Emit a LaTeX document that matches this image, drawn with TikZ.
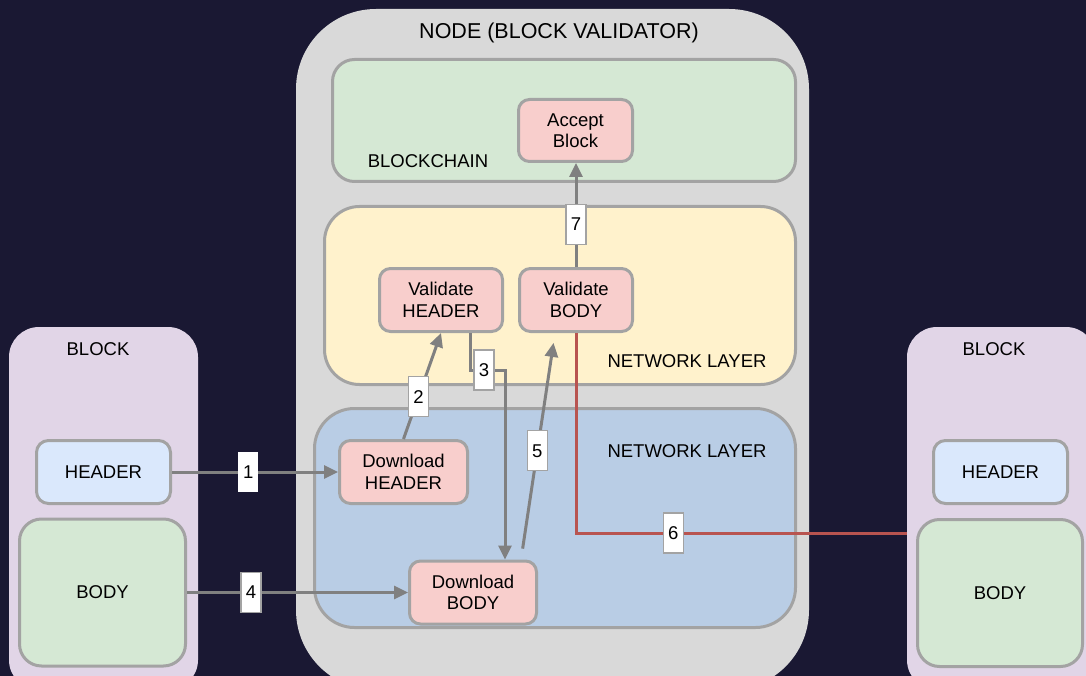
\documentclass[tikz,border=0pt]{standalone}
\usepackage{fontspec}
\setmainfont{Liberation Sans}
\usetikzlibrary{arrows.meta}

\definecolor{bgnavy}{HTML}{1A1833}
\definecolor{nodegray}{HTML}{D9D9D9}
\definecolor{edgegray}{HTML}{A3A3A3}
\definecolor{flowgray}{HTML}{808080}
\definecolor{chaingreen}{HTML}{D5E8D4}
\definecolor{netyellow}{HTML}{FFF2CC}
\definecolor{netblue}{HTML}{B9CDE5}
\definecolor{procpink}{HTML}{F8CECC}
\definecolor{blockpurple}{HTML}{E1D5E7}
\definecolor{headblue}{HTML}{DAE8FC}
\definecolor{rejectred}{HTML}{B85450}

\tikzset{
  txt/.style={font=\fontsize{18.5}{21.5}\selectfont, text=black, align=center},
  region/.style={draw=edgegray, line width=3pt, inner sep=0pt},
  proc/.style={region, fill=procpink, rounded corners=11pt, txt},
  conn/.style={draw=flowgray, line width=3pt, -{Triangle[length=14pt,width=13pt]}},
  reject/.style={draw=rejectred, line width=3pt},
  tag/.style={fill=white, minimum width=20pt, minimum height=40pt, inner sep=0pt, txt},
  tagbox/.style={tag, draw=edgegray, line width=1.2pt},
}

\begin{document}
\begin{tikzpicture}[x=1pt, y=-1pt]
  \useasboundingbox (0,0) rectangle (1086,676);
  \clip (0,0) rectangle (1086,676);
  \fill[bgnavy] (0,0) rectangle (1086,676);

  % validator node and its layers
  \node[fill=nodegray, rounded corners=80pt, minimum width=513pt, minimum height=681pt, inner sep=0pt]
    (validator) at (552.5,349.5) {};
  \node[txt, font=\fontsize{21.5}{24}\selectfont] (title) at (559,33) {NODE (BLOCK VALIDATOR)};

  \node[region, fill=chaingreen, rounded corners=22pt, minimum width=463pt, minimum height=122pt]
    (chain) at (564,120.5) {};
  \node[txt] (chainlbl) at (428,161) {BLOCKCHAIN};

  \node[region, fill=netyellow, rounded corners=35pt, minimum width=471pt, minimum height=178pt]
    (nety) at (560,295.5) {};
  \node[txt] (netylbl) at (687,361) {NETWORK LAYER};

  \node[region, fill=netblue, rounded corners=40pt, minimum width=481pt, minimum height=219pt]
    (netb) at (555,518) {};
  \node[txt] (netblbl) at (687,451) {NETWORK LAYER};

  % processing steps
  \node[proc, minimum width=114pt, minimum height=62pt] (accept) at (575.5,130.5) {Accept\\Block};
  \node[proc, minimum width=123pt, minimum height=63pt] (vh) at (441,300) {Validate\\HEADER};
  \node[proc, minimum width=113pt, minimum height=63pt] (vb) at (576,300) {Validate\\BODY};
  \node[proc, minimum width=128pt, minimum height=63pt] (dh) at (403.5,472) {Download\\HEADER};
  \node[proc, minimum width=127pt, minimum height=63pt] (db) at (473,592.5) {Download\\BODY};

  % incoming block
  \node[fill=blockpurple, rounded corners=30pt, minimum width=189pt, minimum height=363pt, inner sep=0pt]
    (blockL) at (103.5,508.5) {};
  \node[txt] (blockLlbl) at (98,349) {BLOCK};
  \node[region, fill=headblue, rounded corners=12pt, minimum width=134pt, minimum height=63pt, txt]
    (hL) at (103.5,472) {HEADER};
  \node[region, fill=chaingreen, rounded corners=22pt, minimum width=166pt, minimum height=147pt, txt]
    (bL) at (102.5,592.5) {BODY};

  % rejected block
  \node[fill=blockpurple, rounded corners=30pt, minimum width=189pt, minimum height=363pt, inner sep=0pt]
    (blockR) at (1001.5,508.5) {};
  \node[txt] (blockRlbl) at (994,349) {BLOCK};
  \node[region, fill=headblue, rounded corners=12pt, minimum width=134pt, minimum height=63pt, txt]
    (hR) at (1000.5,472) {HEADER};
  \node[region, fill=chaingreen, rounded corners=22pt, minimum width=165pt, minimum height=147pt, txt]
    (bR) at (1000,593) {BODY};

  % flow
  \draw[conn] (hL.east) -- node[tag, pos=0.46] {1} (dh.west);
  \draw[conn] (dh.north) -- node[tagbox, pos=0.40] {2} (vh.south);
  \draw[conn] ([xshift=29pt]vh.south) -- ++(0,37) -- node[tagbox, pos=0.4] {3} ++(35,0)
    -- ([xshift=32pt]db.north);
  \draw[conn] (bL.east) -- node[tagbox, pos=0.29] {4} (db.west);
  \draw[conn, shorten <=11pt, shorten >=10pt] ([xshift=48pt]db.north) -- node[tagbox, pos=0.48] {5} ([xshift=-21pt]vb.south);
  \draw[reject] (vb.south) |- node[tagbox, pos=0.647] {6} ([yshift=-24.5pt]blockR.west);
  \draw[conn] (vb.north) -- node[tagbox, pos=0.41] {7} (vb.north |- accept.south);
\end{tikzpicture}
\end{document}
